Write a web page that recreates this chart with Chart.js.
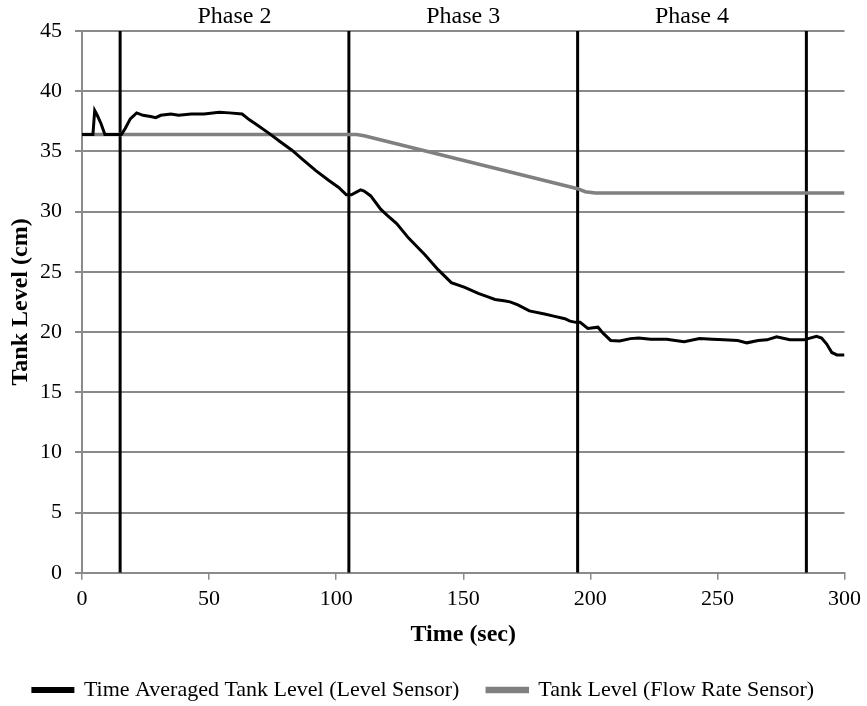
<!DOCTYPE html>
<html>
<head>
<meta charset="utf-8">
<script src="https://cdn.jsdelivr.net/npm/chart.js@4/dist/chart.umd.min.js"></script>
<style>
  body { margin: 0; background: #fff; }
  #wrap { width: 867px; height: 706px; }
</style>
</head>
<body>
<div id="wrap"><canvas id="c"></canvas></div>
<script>
// time averaged level sensor reading
const levelTime = [0, 4.3, 5, 6, 7.5, 9, 15.5, 17, 19, 21.5, 24, 27, 29, 31, 35, 38, 43, 48, 54, 58, 63,
  66, 68.5, 73.6, 78, 82.6, 87, 92, 97, 101, 104, 106, 109.6, 111, 113.6, 117.5, 120, 123.8, 128.5,
  135, 140, 145.3, 150.6, 155.9, 160, 162.5, 166, 168.4, 171.5, 176, 182, 186, 190, 192, 194.3, 196,
  199, 203, 205, 208, 211.5, 215.8, 219, 223.7, 230, 236.9, 243, 248, 252.6, 258, 261.6, 266, 269.5,
  273.3, 278.5, 284, 289, 291, 293, 295, 297, 300];
const levelValue = [36.4, 36.4, 38.4, 38.0, 37.3, 36.4, 36.4, 36.9, 37.7, 38.2, 38.0, 37.9, 37.8, 38.0, 38.1, 38.0, 38.1, 38.1, 38.25, 38.2, 38.1,
  37.6, 37.25, 36.5, 35.8, 35.1, 34.3, 33.4, 32.6, 32.0, 31.4, 31.4, 31.8, 31.7, 31.3, 30.2, 29.7, 29.0, 27.8,
  26.4, 25.2, 24.1, 23.7, 23.2, 22.9, 22.7, 22.6, 22.5, 22.25, 21.75, 21.5, 21.3, 21.1, 20.9, 20.8, 20.8,
  20.3, 20.4, 19.9, 19.3, 19.25, 19.45, 19.5, 19.4, 19.4, 19.2, 19.45, 19.4, 19.35, 19.3, 19.1, 19.3, 19.35,
  19.6, 19.35, 19.35, 19.65, 19.5, 19.0, 18.3, 18.1, 18.1];

// level from the flow rate sensor
const flowTime = [0, 108, 111, 195, 198, 202, 300];
const flowValue = [36.4, 36.4, 36.3, 31.9, 31.65, 31.55, 31.55];

// phase boundaries and labels
const phaseLines = [15, 105, 195, 285];
const phaseCenters = [60, 150, 240];
const phaseNames = ["Phase 2", "Phase 3", "Phase 4"];

const FONT = "'Liberation Serif', 'Times New Roman', serif";
const GRID = "#8a8a8a";

const pts = (xs, ys) => xs.map((x, i) => ({ x: x, y: ys[i] }));

const datasets = [
  {
    label: "Time Averaged Tank Level (Level Sensor)",
    data: pts(levelTime, levelValue),
    borderColor: "#000",
    backgroundColor: "#000",
    borderWidth: 3,
    pointRadius: 0,
    tension: 0,
  },
  {
    label: "Tank Level (Flow Rate Sensor)",
    data: pts(flowTime, flowValue),
    borderColor: "#808080",
    backgroundColor: "#808080",
    borderWidth: 3.5,
    pointRadius: 0,
    tension: 0,
  },
];
phaseLines.forEach((t) => {
  datasets.push({
    label: "phase",
    data: [{ x: t, y: 0 }, { x: t, y: 45 }],
    borderColor: "#000",
    borderWidth: 3,
    pointRadius: 0,
  });
});

new Chart(document.getElementById("c"), {
  type: "line",
  data: { datasets: datasets },
  options: {
    responsive: true,
    maintainAspectRatio: false,
    animation: false,
    layout: { padding: { left: 0, right: 20, top: 0, bottom: -5 } },
    plugins: {
      tooltip: { enabled: false },
      legend: {
        position: "bottom",
        labels: {
          filter: (item) => item.text !== "phase",
          boxWidth: 40,
          boxHeight: 3,
          padding: 28,
          color: "#000",
          font: { family: FONT, size: 22 },
        },
      },
    },
    scales: {
      x: {
        type: "linear",
        min: 0,
        max: 300,
        ticks: { stepSize: 50, color: "#000", font: { family: FONT, size: 22 }, padding: 6, maxRotation: 0 },
        grid: { drawOnChartArea: false, drawTicks: true, tickLength: 7, color: GRID, lineWidth: 1.5 },
        border: { color: GRID, width: 2 },
        title: { display: true, text: "Time (sec)", color: "#000", font: { family: FONT, size: 24, weight: "bold" }, padding: { top: 2, bottom: 2 } },
      },
      phase: {
        type: "linear",
        position: "top",
        min: 0,
        max: 300,
        grid: { display: false },
        border: { display: false },
        afterBuildTicks: (scale) => { scale.ticks = phaseCenters.map((v) => ({ value: v })); },
        afterFit: (scale) => { scale.height = 31; },
        ticks: {
          autoSkip: false,
          maxRotation: 0,
          padding: -6,
          color: "#000",
          font: { family: FONT, size: 24, lineHeight: 1 },
          callback: (v) => phaseNames[phaseCenters.indexOf(v)],
        },
      },
      y: {
        min: 0,
        max: 45,
        afterFit: (scale) => { scale.width = 82; },
        ticks: { stepSize: 5, color: "#000", font: { family: FONT, size: 22 }, padding: 13 },
        grid: { color: GRID, lineWidth: 2, tickLength: 7 },
        border: { color: GRID, width: 2 },
        title: { display: true, text: "Tank Level (cm)", color: "#000", font: { family: FONT, size: 24, weight: "bold" }, padding: { top: 6 } },
      },
    },
  },
});
</script>
</body>
</html>
